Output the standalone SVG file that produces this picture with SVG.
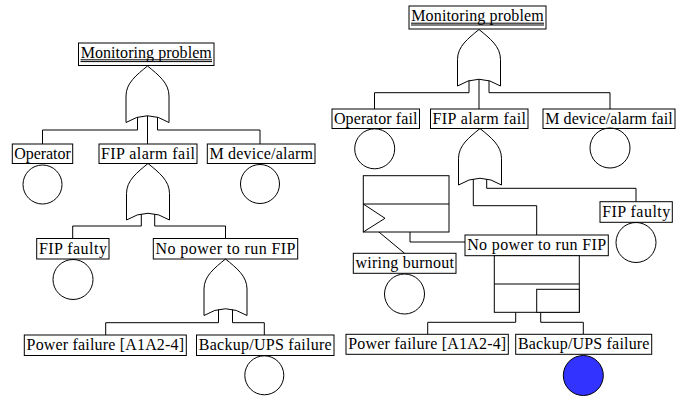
<svg xmlns="http://www.w3.org/2000/svg" xmlns:xlink="http://www.w3.org/1999/xlink" width="689" height="400" viewBox="0 0 689 400">
<style>
  .box { fill: #fff; stroke: #000; stroke-width: 1; }
  .ln { fill: none; stroke: #000; stroke-width: 1; }
  .ev { fill: none; stroke: #000; stroke-width: 1; }
  .gate { fill: none; stroke: #000; stroke-width: 1; }
  .t { font-family: "Liberation Serif", "Times New Roman", serif; font-size: 16px; fill: #000; text-anchor: middle; }
</style>
<defs>
  <path id="orgate" class="gate" d="M0,0 C11,9 21.5,17 21.5,30 L21.5,56.5 Q0,43 -21.5,56.5 L-21.5,30 C-21.5,17 -11,9 0,0 Z"/>
</defs>
<rect width="689" height="400" fill="#fff"/>

<g id="connectors">
  <!-- left tree -->
  <path class="ln" d="M137.5,117 V130 H42.5 V144"/>
  <path class="ln" d="M147.5,116 V144"/>
  <path class="ln" d="M157.5,117 V130 H260 V144"/>
  <path class="ln" d="M141.3,214 V226 H72.7 V238.5"/>
  <path class="ln" d="M154.7,214 V226 H225.5 V238.5"/>
  <path class="ln" d="M218.5,309.5 V322.7 H105.7 V335"/>
  <path class="ln" d="M232.5,309.5 V322.7 H264.3 V335"/>
  <!-- right tree -->
  <path class="ln" d="M469,80.5 V92.7 H374.5 V109"/>
  <path class="ln" d="M479,79.5 V109"/>
  <path class="ln" d="M489,80.5 V92.7 H610 V109"/>
  <path class="ln" d="M473.3,179 V205.7 H536.7 V235"/>
  <path class="ln" d="M486.7,179 V188.3 H636 V201.7"/>
  <path class="ln" d="M410,232 V242 H465"/>
  <path class="ln" d="M363.3,219 L404.5,253.3"/>
  <path class="ln" d="M515.7,312.3 V322.3 H427.7 V334.3"/>
  <path class="ln" d="M540.7,312.3 V322.3 H583.3 V334.3"/>
</g>

<!-- LEFT TREE -->
<g id="L-top">
  <rect class="box" x="78.5" y="43" width="135.5" height="22.5"/>
  <line class="ln" x1="80.5" y1="59.8" x2="212" y2="59.8" stroke-width="0.8"/>
  <line class="ln" x1="80.5" y1="61.6" x2="212" y2="61.6" stroke-width="0.8"/>
  <text class="t" x="146.25" y="57.5" textLength="131" lengthAdjust="spacing">Monitoring problem</text>
</g>
<g id="L-gate1"><use xlink:href="#orgate" x="147.5" y="66"/></g>
<g id="L-operator">
  <rect class="box" x="12.3" y="144" width="60.4" height="19.5"/>
  <text class="t" x="42.5" y="158.5" textLength="56.5" lengthAdjust="spacing">Operator</text>
  <circle class="ev" cx="42.5" cy="184.5" r="19.5"/>
</g>
<g id="L-fip-alarm">
  <rect class="box" x="99" y="144" width="98" height="19.5"/>
  <text class="t" x="148" y="158.5" textLength="94" lengthAdjust="spacing">FIP alarm fail</text>
</g>
<g id="L-mdevice">
  <rect class="box" x="207.3" y="144" width="107.7" height="19.5"/>
  <text class="t" x="261.2" y="158.5" textLength="103.5" lengthAdjust="spacing">M device/alarm</text>
  <circle class="ev" cx="260" cy="184" r="19.5"/>
</g>
<g id="L-gate2"><use xlink:href="#orgate" x="148" y="163.5"/></g>
<g id="L-fip-faulty">
  <rect class="box" x="36.7" y="238.5" width="72.3" height="20.5"/>
  <text class="t" x="72.9" y="253.5" textLength="68" lengthAdjust="spacing">FIP faulty</text>
  <circle class="ev" cx="73" cy="279.5" r="20"/>
</g>
<g id="L-nopower">
  <rect class="box" x="153.3" y="238.5" width="144.4" height="20.5"/>
  <text class="t" x="225.5" y="253.5" textLength="140" lengthAdjust="spacing">No power to run FIP</text>
</g>
<g id="L-gate3"><use xlink:href="#orgate" x="225.5" y="259"/></g>
<g id="L-power">
  <rect class="box" x="24.3" y="335" width="162" height="20.5"/>
  <text class="t" x="105.3" y="350" textLength="157.5" lengthAdjust="spacing">Power failure [A1A2-4]</text>
</g>
<g id="L-backup">
  <rect class="box" x="196.5" y="335" width="137.5" height="20.5"/>
  <text class="t" x="265.2" y="350" textLength="133" lengthAdjust="spacing">Backup/UPS failure</text>
  <circle class="ev" cx="264.3" cy="375.3" r="19.5"/>
</g>

<!-- RIGHT TREE -->
<g id="R-top">
  <rect class="box" x="409" y="6" width="137" height="23"/>
  <line class="ln" x1="411" y1="23.2" x2="544" y2="23.2" stroke-width="0.8"/>
  <line class="ln" x1="411" y1="25" x2="544" y2="25" stroke-width="0.8"/>
  <text class="t" x="477.5" y="20.5" textLength="132.5" lengthAdjust="spacing">Monitoring problem</text>
</g>
<g id="R-gate1"><use xlink:href="#orgate" x="479" y="29.5"/></g>
<g id="R-operator">
  <rect class="box" x="332" y="109" width="87.5" height="19.5"/>
  <text class="t" x="375.7" y="123.5" textLength="83.5" lengthAdjust="spacing">Operator fail</text>
  <circle class="ev" cx="374.7" cy="148.8" r="20"/>
</g>
<g id="R-fip-alarm">
  <rect class="box" x="430.5" y="109" width="97.5" height="19.5"/>
  <text class="t" x="479.3" y="123.5" textLength="93.5" lengthAdjust="spacing">FIP alarm fail</text>
</g>
<g id="R-mdevice">
  <rect class="box" x="543" y="109" width="132" height="19.5"/>
  <text class="t" x="609" y="123.5" textLength="127.5" lengthAdjust="spacing">M device/alarm fail</text>
  <circle class="ev" cx="610" cy="148" r="20"/>
</g>
<g id="R-gate2"><use xlink:href="#orgate" x="480" y="128.5"/></g>
<g id="R-transfer">
  <rect class="box" x="363.3" y="175.7" width="85.7" height="56.3"/>
  <line class="ln" x1="363.3" y1="204" x2="449" y2="204"/>
  <path class="ln" d="M363.3,204 L385,218.3 L363.3,232"/>
</g>
<g id="R-fip-faulty">
  <rect class="box" x="600" y="201.7" width="72.3" height="20.6"/>
  <text class="t" x="636.2" y="216.7" textLength="68" lengthAdjust="spacing">FIP faulty</text>
  <circle class="ev" cx="636" cy="242.5" r="20"/>
</g>
<g id="R-nopower">
  <rect class="box" x="465" y="235" width="143.3" height="20.7"/>
  <text class="t" x="536.7" y="250" textLength="139" lengthAdjust="spacing">No power to run FIP</text>
</g>
<g id="R-wiring">
  <rect class="box" x="353.3" y="253.3" width="102.7" height="20"/>
  <text class="t" x="404.7" y="268" textLength="98.5" lengthAdjust="spacing">wiring burnout</text>
  <circle class="ev" cx="404.5" cy="294" r="20"/>
</g>
<g id="R-lowerbox">
  <rect class="box" x="494.3" y="255.7" width="85" height="56.6"/>
  <line class="ln" x1="494.3" y1="284" x2="579.3" y2="284"/>
  <rect class="box" x="536.7" y="289.3" width="42.6" height="23"/>
</g>
<g id="R-power">
  <rect class="box" x="346" y="334.3" width="162.3" height="20"/>
  <text class="t" x="427.2" y="349" textLength="158" lengthAdjust="spacing">Power failure [A1A2-4]</text>
</g>
<g id="R-backup">
  <rect class="box" x="515.7" y="334.3" width="136" height="20"/>
  <text class="t" x="583.7" y="349" textLength="131.5" lengthAdjust="spacing">Backup/UPS failure</text>
  <circle cx="583.3" cy="375.5" r="20" fill="#3333ff" stroke="#000" stroke-width="1"/>
</g>
</svg>
